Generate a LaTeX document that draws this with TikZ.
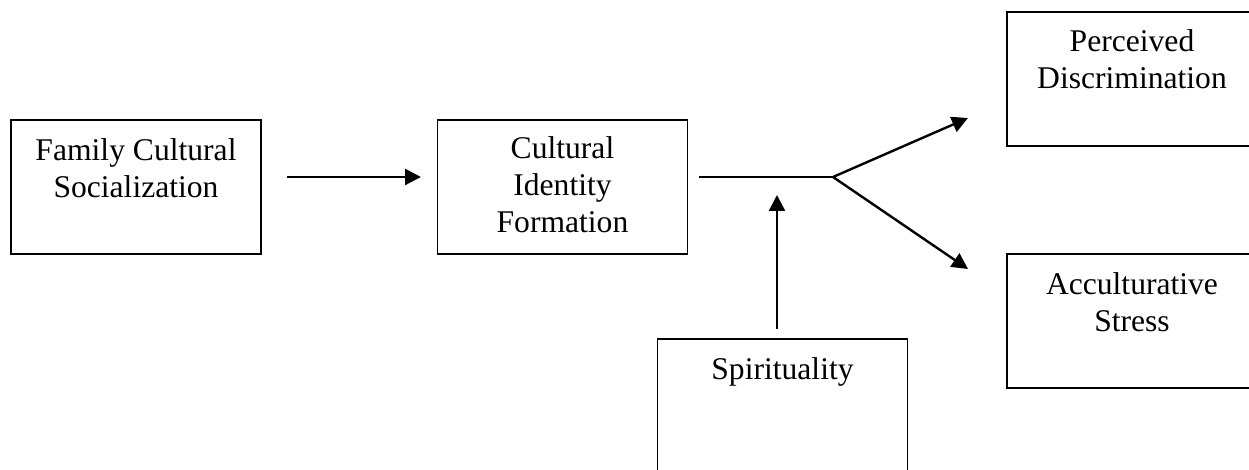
\documentclass[tikz,border=0pt]{standalone}
\usepackage{fontspec}
\setmainfont{Liberation Serif}
\usetikzlibrary{arrows.meta,calc}
\begin{document}
\begin{tikzpicture}[x=0.5pt,y=-0.5pt,
  box/.style={draw=black,line width=0.85pt,rectangle,inner sep=0pt,minimum width=125pt,minimum height=67pt},
  lbl/.style={align=center,inner sep=0pt,font=\fontsize{15.8pt}{18.6pt}\selectfont},
  conn/.style={line width=1.2pt,-{Triangle[length=8pt,width=8pt]}},
  plain/.style={line width=1pt}]
\useasboundingbox (0,0) rectangle (1249,470);
\clip (0,0) rectangle (1249,470);
% boxes
\node[box] (fcs) at (136,187) {};
\node[box] (cif) at (562.5,187) {};
\node[box] (pd) at (1132,79) {};
\node[box] (as) at (1132,321) {};
\node[box,minimum height=80pt] (sp) at (782.5,419) {};
% labels (anchor base = last line baseline)
\node[lbl,anchor=base] (fcst) at (136,198) {Family Cultural\\Socialization};
\node[lbl,anchor=base] (cift) at (562.5,233) {Cultural\\Identity\\Formation};
\node[lbl,anchor=base] (pdt) at (1132,89) {Perceived\\Discrimination};
\node[lbl,anchor=base] (ast) at (1132,332) {Acculturative\\Stress};
\node[lbl,anchor=base] (spt) at (782.5,380) {Spirituality};
% connector points
\coordinate (a1s) at (287,177);
\coordinate (a1e) at (421,177);
\coordinate (ls) at (699,177);
\coordinate (br) at (833,177);
\coordinate (up) at (968,118);
\coordinate (dn) at (968,269);
\coordinate (ms) at (777,329);
\coordinate (me) at (777,195);
\draw[conn] (a1s) -- (a1e);
\draw[plain] (ls) -- (br);
\draw[conn] (br) -- (up);
\draw[conn] (br) -- (dn);
\draw[conn] (ms) -- (me);
\end{tikzpicture}
\end{document}
